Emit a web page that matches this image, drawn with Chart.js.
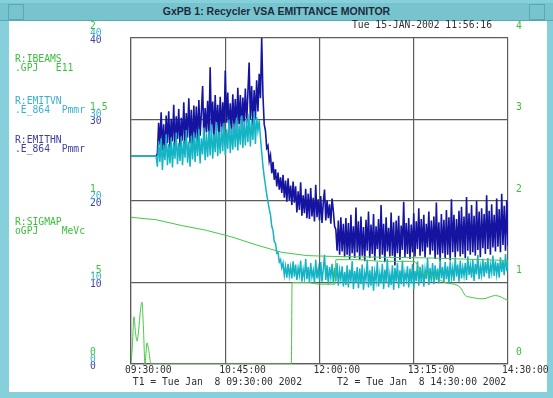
<!DOCTYPE html>
<html>
<head>
<meta charset="utf-8">
<script src="https://cdn.jsdelivr.net/npm/chart.js"></script>
<style>
  body { margin: 0; width: 553px; height: 398px; overflow: hidden; position: relative; background: #86d0dc; font-family: 'DejaVu Sans Mono', monospace; }
  #titlebar { position: absolute; left: 0; top: 3px; width: 553px; height: 17px; background: #78c4ce; border-bottom: 1px solid #5aa8b4; }
  #titlebar .txt { position: absolute; left: 0; right: 0; top: 2px; text-align: center; font: bold 10.5px 'Liberation Sans', Arial, sans-serif; color: #1c2c3c; }
  #titlebar .btnL { position: absolute; left: 8px; top: 1px; width: 14px; height: 14px; border: 1px solid #5aa8b4; }
  #titlebar .btnR { position: absolute; right: 8px; top: 1px; width: 14px; height: 14px; border: 1px solid #5aa8b4; }
  #panel { position: absolute; left: 9px; top: 21px; width: 538px; height: 371px; background: #fff; }
  #wrap { position: absolute; left: 0; top: 0; width: 553px; height: 398px; }
  .lbl { position: absolute; white-space: pre; font-size: 9.7px; line-height: 9px; }
  .g { color: #3cc03c; }
  .c { color: #38b0d0; }
  .b { color: #4040a4; }
</style>
</head>
<body>
<div id="titlebar"><div class="btnL"></div><div class="txt">GxPB 1: Recycler VSA EMITTANCE MONITOR</div><div class="btnR"></div></div>
<div id="panel"></div>
<div id="wrap"><canvas id="emitChart" width="553" height="398"></canvas></div>
<div class="lbl" style="left:352px; top:20px; color:#303030;">Tue 15-JAN-2002 11:56:16</div>
<div class="lbl g" style="left:15px; top:54px;">R:IBEAMS
.GPJ   E11</div>
<div class="lbl c" style="left:15px; top:96px;">R:EMITVN
.E_864  Pmmr</div>
<div class="lbl b" style="left:15px; top:135px;">R:EMITHN
.E_864  Pmmr</div>
<div class="lbl g" style="left:15px; top:217px;">R:SIGMAP
oGPJ    MeVc</div>
<script>
// time axis, minutes after T1 (09:30:00)
const minutes = [];
for (let m = 0; m <= 300; m++) minutes.push(m);
const timeTicks = ['09:30:00', '10:45:00', '12:00:00', '13:15:00', '14:30:00'];

// R:EMITHN, pi mm mrad (dark blue), one reading per minute
const emitHN = [
  25.5, 25.5, 25.5, 25.5, 25.5, 25.5, 25.5, 25.5, 25.5, 25.5,
  25.5, 25.5, 25.5, 25.5, 25.5, 25.5, 25.5, 25.5, 25.5, 25.5,
  25.5,
  25.8, 29.6, 26.9, 30.9, 26.2, 29.4, 25.6, 30.5, 27.1, 31.0,
  26.5, 30.1, 27.3, 31.8, 26.2, 30.4, 27.6, 31.3, 26.6, 30.2,
  27.4, 32.1, 26.9, 30.8, 27.8, 32.6, 27.1, 31.2, 26.5, 31.7,
  27.7, 31.6, 27.3, 32.4, 28.0, 30.9, 34.1, 27.5, 31.4, 28.4,
  32.3, 27.8, 36.4, 28.4, 32.2, 27.9, 33.0, 28.6, 31.8, 28.0,
  32.8, 28.5, 32.1, 28.1, 36.0, 29.6, 33.3, 28.4, 32.0, 28.3,
  33.1, 29.0, 32.5, 28.6, 33.9, 29.4, 33.0, 28.8, 32.7, 29.7,
  33.8, 29.5, 33.2, 37.0, 30.0, 34.1, 29.3, 33.6, 30.1, 34.8,
  31.0, 35.6, 32.6, 40.0, 33.0, 29.4, 28.6, 26.5, 26.8, 24.9,
  25.6, 23.4, 24.8, 22.6, 23.9, 21.8, 23.5, 21.4, 22.9, 21.0,
  23.2, 20.4, 22.5, 19.9, 22.8, 20.1, 21.9, 19.5, 22.4, 19.8,
  21.8, 18.6, 21.2, 18.9, 22.3, 18.2, 20.7, 18.5, 21.5, 17.9,
  20.9, 17.8, 21.6, 18.1, 20.4, 17.5, 22.0, 18.0, 20.2, 17.6,
  20.6, 17.3, 19.8, 21.4, 17.6, 20.1, 17.9, 19.6, 17.2, 20.3,
  18.8, 16.9, 16.5, 13.9, 17.6, 13.4, 18.0, 13.8, 17.2, 13.1,
  17.9, 13.4, 17.3, 12.9, 18.3, 13.6, 16.9, 13.0, 19.2, 13.7,
  17.5, 12.8, 18.1, 13.3, 16.8, 12.6, 17.7, 13.9, 18.7, 13.0,
  17.1, 13.5, 18.4, 12.7, 16.9, 14.1, 17.8, 12.9, 19.5, 13.4,
  17.2, 12.5, 18.0, 13.8, 16.7, 13.2, 18.6, 13.3, 17.4, 12.1,
  17.6, 13.6, 18.2, 12.8, 17.0, 14.0, 19.9, 13.1, 17.3, 13.5,
  17.9, 12.9, 17.1, 13.7, 18.5, 13.2, 17.5, 14.1, 19.1, 13.3,
  17.8, 13.8, 18.3, 13.1, 17.2, 14.3, 18.7, 13.4, 17.6, 13.9,
  18.1, 12.9, 19.8, 13.4, 17.4, 12.6, 18.4, 13.6, 17.7, 13.0,
  18.9, 13.4, 18.0, 12.7, 20.2, 13.7, 18.3, 13.1, 17.8, 13.8,
  18.8, 13.2, 19.3, 13.5, 18.1, 13.0, 20.5, 13.9, 18.5, 13.4,
  19.5, 13.7, 18.2, 13.3, 20.0, 14.0, 18.7, 13.1, 19.1, 14.2,
  18.4, 13.5, 20.7, 14.1, 18.8, 13.4, 19.6, 14.3, 18.3, 13.8,
  20.3, 14.4, 19.0, 13.7, 20.9, 14.6, 19.4, 13.9, 20.1, 14.5
];

// R:EMITVN, pi mm mrad (cyan)
const emitVN = [
  25.5, 25.5, 25.5, 25.5, 25.5, 25.5, 25.5, 25.5, 25.5, 25.5,
  25.5, 25.5, 25.5, 25.5, 25.5, 25.5, 25.5, 25.5, 25.5, 25.5,
  25.5,
  24.2, 27.3, 24.8, 27.7, 23.8, 26.9, 25.0, 28.2, 24.4, 27.0,
  24.6, 27.8, 24.1, 27.2, 25.2, 28.4, 24.5, 27.1, 24.9, 27.9,
  24.4, 27.4, 25.3, 28.7, 24.7, 27.3, 24.2, 28.0, 25.1, 28.4,
  24.8, 28.1, 25.5, 28.8, 24.6, 27.7, 25.7, 29.0, 25.0, 28.3,
  25.4, 28.6, 25.6, 29.4, 25.2, 28.2, 26.0, 29.7, 25.5, 28.5,
  25.8, 29.1, 26.1, 29.6, 25.6, 28.8, 26.4, 30.0, 25.9, 28.9,
  26.3, 29.5, 26.6, 30.2, 26.2, 29.3, 26.9, 30.5, 26.5, 29.8,
  26.8, 30.1, 27.2, 30.7, 26.7, 29.9, 27.5, 31.0, 27.0, 30.3,
  28.6, 29.9, 27.8, 26.0, 24.3, 23.0, 21.9, 20.8, 19.9, 19.0,
  18.3, 16.9, 16.4, 15.0, 14.8, 13.6, 13.7, 12.5, 12.8, 11.8,
  12.4, 10.9, 12.0, 10.6, 12.3, 10.8, 11.9, 10.5, 12.6, 10.7,
  12.2, 10.3, 11.8, 10.9, 12.7, 10.1, 11.6, 10.6, 12.9, 10.4,
  11.9, 10.0, 12.4, 10.7, 11.5, 9.9, 12.8, 10.5, 11.7, 10.2,
  12.5, 10.1, 11.6, 13.4, 10.3, 12.1, 9.8, 11.9, 10.6, 12.3,
  9.9, 11.8, 10.2, 12.4, 9.6, 11.5, 10.4, 12.0, 9.5, 11.3,
  9.7, 12.1, 9.4, 11.6, 10.1, 12.6, 9.2, 11.4, 10.0, 11.9,
  9.3, 11.7, 9.8, 12.2, 9.1, 11.2, 10.3, 12.8, 9.4, 11.5,
  9.6, 12.0, 9.0, 11.3, 10.2, 12.5, 9.5, 11.1, 9.9, 12.3,
  9.2, 11.6, 10.0, 12.9, 9.4, 11.0, 9.7, 12.1, 9.1, 11.8,
  10.1, 12.4, 9.3, 11.5, 9.8, 12.7, 9.5, 11.2, 10.3, 12.0,
  9.4, 11.7, 9.9, 12.3, 9.2, 11.4, 10.2, 12.6, 9.6, 11.9,
  10.0, 12.2, 9.5, 11.6, 10.4, 13.0, 9.7, 11.8, 10.1, 12.4,
  9.8, 12.1, 10.3, 11.7, 9.9, 12.8, 10.5, 11.9, 10.0, 12.5,
  10.4, 12.0, 9.9, 12.6, 10.6, 11.8, 10.2, 13.1, 10.7, 12.2,
  10.1, 12.7, 10.5, 11.9, 10.8, 12.4, 10.3, 13.2, 10.9, 12.1,
  10.6, 12.8, 10.2, 12.3, 11.0, 13.4, 10.4, 12.0, 10.9, 12.9,
  10.7, 12.5, 11.1, 13.0, 10.5, 12.2, 11.2, 13.3, 10.8, 12.6,
  11.0, 12.4, 10.6, 13.1, 11.3, 12.7, 10.9, 13.5, 11.4, 12.8
];

// R:IBEAMS, E11 (green, right scale)
const ibeamsTimes = [0, 20, 40, 60, 80, 100, 120, 140, 160, 200, 240, 300];
const ibeams = [1.80, 1.77, 1.70, 1.64, 1.56, 1.46, 1.37, 1.33, 1.32, 1.31, 1.30, 1.27];

// R:SIGMAP, MeV/c (green, left 0-2 scale)
const sigmapTimes = [0, 1, 2.4, 3.5, 4.8, 6, 7.5, 8.7, 10, 11.1, 12.7, 14, 15.9, 127.6, 128.2, 140, 150, 162.4, 163, 180, 200, 225, 232, 240, 250, 262, 266, 270, 280, 290, 300];
const sigmap = [0, 0.10, 0.29, 0.20, 0.14, 0.20, 0.33, 0.38, 0.20, 0, 0.13, 0.09, 0, 0, 0.50, 0.50, 0.49, 0.49, 0.64, 0.64, 0.63, 0.63, 0.56, 0.54, 0.50, 0.47, 0.42, 0.41, 0.40, 0.42, 0.39];

const pts = (xs, ys) => ys.map((v, i) => ({ x: xs[i], y: v }));
const mono = { family: "'DejaVu Sans Mono', monospace", size: 9.7 };
const gridCol = '#5c5c5c';

const ctx = document.getElementById('emitChart').getContext('2d');
const myChart = new Chart(ctx, {
    type: 'line',
    data: {
        datasets: [
            { label: 'R:IBEAMS', data: pts(ibeamsTimes, ibeams), yAxisID: 'yR', borderColor: '#44c844', borderWidth: 1, pointRadius: 0, order: 0 },
            { label: 'R:SIGMAP', data: pts(sigmapTimes, sigmap), yAxisID: 'yG', borderColor: '#44c844', borderWidth: 1, pointRadius: 0, cubicInterpolationMode: 'monotone', order: 1 },
            { label: 'R:EMITVN', data: pts(minutes, emitVN), yAxisID: 'yB', borderColor: '#14b4c4', borderWidth: 1.5, pointRadius: 0, order: 2 },
            { label: 'R:EMITHN', data: pts(minutes, emitHN), yAxisID: 'yB', borderColor: '#1414a0', borderWidth: 1.6, pointRadius: 0, order: 3 }
        ]
    },
    options: {
        responsive: false,
        animation: false,
        layout: { padding: { left: 90, right: 15, top: 38, bottom: 4 } },
        plugins: { legend: { display: false }, tooltip: { enabled: false } },
        scales: {
            x: {
                type: 'linear', min: 0, max: 300,
                grid: { color: gridCol, lineWidth: 1.2, drawTicks: false },
                border: { color: gridCol, width: 1.2 },
                ticks: {
                    stepSize: 75, maxRotation: 0, align: 'start', labelOffset: -6, padding: 1,
                    color: '#303030', font: mono,
                    callback: (v) => timeTicks[v / 75]
                },
                title: {
                    display: true, color: '#303030', font: mono, padding: { top: 0, bottom: 6 },
                    text: 'T1 = Tue Jan  8 09:30:00 2002      T2 = Tue Jan  8 14:30:00 2002'
                },
                afterFit: (s) => { s.height = 30; s.paddingLeft = 0; s.paddingRight = 0; }
            },
            yB: {
                position: 'left', min: 0, max: 40, weight: 1,
                grid: { color: gridCol, lineWidth: 1.2, drawTicks: false },
                border: { color: gridCol, width: 1.2 },
                ticks: { stepSize: 10, crossAlign: 'far', labelOffset: 2, color: '#4040a4', font: mono },
                afterFit: (s) => { s.width = 41; s.paddingTop = 0; s.paddingBottom = 0; }
            },
            yC: {
                position: 'left', min: 0, max: 40, weight: 3,
                grid: { display: false, drawTicks: false }, border: { display: false },
                ticks: { stepSize: 10, mirror: true, crossAlign: 'near', padding: 0, labelOffset: -5, color: '#38b0d0', font: mono },
                afterFit: (s) => { s.width = 0; s.paddingTop = 0; s.paddingBottom = 0; }
            },
            yG: {
                position: 'left', min: 0, max: 2, weight: 2,
                grid: { display: false, drawTicks: false }, border: { display: false },
                ticks: { stepSize: 0.5, mirror: true, crossAlign: 'near', padding: 0, labelOffset: -12, color: '#3cc03c', font: mono,
                    callback: (v) => (v === 0.5 ? '.5' : String(v)) },
                afterFit: (s) => { s.width = 0; s.paddingTop = 0; s.paddingBottom = 0; }
            },
            yR: {
                position: 'right', min: 0, max: 4,
                grid: { display: false, drawTicks: false }, border: { display: false },
                ticks: { stepSize: 1, padding: 8, labelOffset: -12, color: '#3cc03c', font: mono },
                afterFit: (s) => { s.width = 30; s.paddingTop = 0; s.paddingBottom = 0; }
            }
        }
    }
});
</script>
</body>
</html>
